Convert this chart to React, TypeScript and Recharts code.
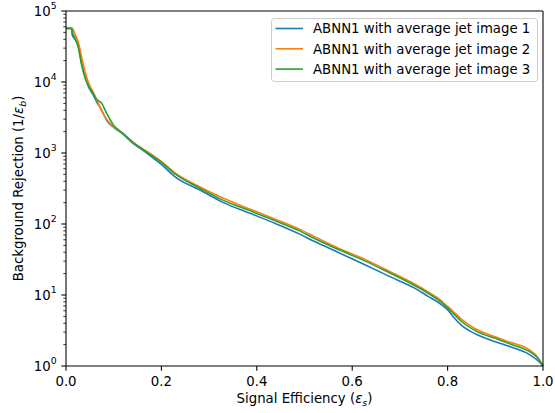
import React from 'react';
import { LineChart, Line, XAxis, YAxis, Legend, ReferenceLine } from 'recharts';

// signal efficiency grid (shared by the three curves)
const signalEff = [
  0, 0.012, 0.013, 0.02, 0.026, 0.033, 0.04, 0.047, 0.057, 0.064, 0.075, 0.085, 0.1, 0.117,
  0.14, 0.17, 0.2, 0.23, 0.28, 0.33, 0.39, 0.44, 0.49, 0.52, 0.57, 0.63, 0.68, 0.73, 0.76,
  0.78, 0.8, 0.81, 0.83, 0.86, 0.9, 0.93, 0.97, 0.99, 1.0,
];

// background rejection 1/eps_b
const rejection1 = [
  57000, 57000, 46000, 39000, 32000, 18000, 11800, 8600, 6600, 5300, 4000, 2900, 2300, 1900,
  1380, 990, 690, 455, 303, 200, 138, 101, 72, 57, 40, 26, 18, 12.6, 9.5,
  7.9, 6.2, 5.1, 3.7, 2.8, 2.2, 1.88, 1.47, 1.18, 1.0,
];
const rejection2 = [
  57000, 57000, 57000, 45000, 36000, 22000, 14000, 9800, 7200, 5700, 3900, 3000, 2350, 1950,
  1420, 1050, 760, 515, 335, 230, 158, 116, 84, 67, 46, 31, 21.3, 14.4, 11,
  9.0, 6.9, 6.0, 4.5, 3.3, 2.58, 2.17, 1.72, 1.3, 1.0,
];
const rejection3 = [
  57000, 57000, 52000, 40000, 30000, 17000, 11500, 8800, 6900, 5700, 5000, 3650, 2450, 1950,
  1420, 1020, 740, 500, 322, 215, 150, 110, 80, 63, 44, 29.5, 20.2, 13.7, 10.5,
  8.6, 6.6, 5.7, 4.2, 3.1, 2.45, 2.05, 1.62, 1.27, 1.0,
];

const seriesNames = [
  'ABNN1 with average jet image 1',
  'ABNN1 with average jet image 2',
  'ABNN1 with average jet image 3',
];
const seriesColors = ['#1f77b4', '#ff7f0e', '#2ca02c'];

const xTicks = [0, 0.2, 0.4, 0.6, 0.8, 1.0];
const yMajor = [1, 10, 100, 1000, 10000, 100000];
const yTicks: number[] = [];
yMajor.forEach((m, i) => {
  yTicks.push(m);
  if (i < yMajor.length - 1) for (let k = 2; k <= 9; k++) yTicks.push(m * k);
});

const rows = signalEff.map((x, i) => ({
  x,
  r1: rejection1[i],
  r2: rejection2[i],
  r3: rejection3[i],
}));

const FONT = '"DejaVu Sans", sans-serif';
const FS = 13.3;
const LW = 1.6;

const XTick = ({ x, y, payload }: any) => (
  <g>
    <line x1={x} x2={x} y1={y} y2={y + 4.7} stroke="#000" strokeWidth={1.07} />
    <text x={x} y={y + 20} textAnchor="middle" fontSize={FS} fontFamily={FONT} fill="#000">
      {Number(payload.value).toFixed(1)}
    </text>
  </g>
);

const YTick = ({ x, y, payload }: any) => {
  const lg = Math.log10(payload.value);
  const exp = Math.round(lg);
  const major = Math.abs(lg - exp) < 1e-9;
  return (
    <g>
      <line
        x1={x - (major ? 4.7 : 2.7)}
        x2={x}
        y1={y}
        y2={y}
        stroke="#000"
        strokeWidth={major ? 1.07 : 0.8}
      />
      {major && (
        <text x={x - 9.4} y={y + 5.3} textAnchor="end" fontSize={FS} fontFamily={FONT} fill="#000">
          10
          <tspan dy={-7.6} fontSize={9.3}>
            {exp}
          </tspan>
        </text>
      )}
    </g>
  );
};

const XLabel = ({ viewBox }: any) => {
  const cx = viewBox.x + viewBox.width / 2;
  return (
    <text x={cx} y={viewBox.y + 37} textAnchor="middle" fontSize={FS} fontFamily={FONT} fill="#000">
      Signal Efficiency (<tspan fontStyle="italic">ε</tspan>
      <tspan dy={3} fontSize={9.3} fontStyle="italic">
        s
      </tspan>
      <tspan dy={-3}>)</tspan>
    </text>
  );
};

const YLabel = ({ viewBox }: any) => {
  const cx = 22.5;
  const cy = viewBox.y + viewBox.height / 2;
  return (
    <text
      x={cx}
      y={cy}
      transform={`rotate(-90 ${cx} ${cy})`}
      textAnchor="middle"
      fontSize={FS}
      fontFamily={FONT}
      fill="#000"
    >
      Background Rejection (1/<tspan fontStyle="italic">ε</tspan>
      <tspan dy={3} fontSize={9.3} fontStyle="italic">
        b
      </tspan>
      <tspan dy={-3}>)</tspan>
    </text>
  );
};

const LegendBox = () => (
  <svg width={267} height={64} style={{ display: 'block' }}>
    <rect x={0.5} y={0.5} width={266} height={63} rx={3} fill="#fff" fillOpacity={0.8} stroke="#cccccc" />
    {seriesNames.map((name, i) => {
      const cy = 10.5 + i * 20.3;
      return (
        <g key={name}>
          <line x1={4.5} x2={32} y1={cy} y2={cy} stroke={seriesColors[i]} strokeWidth={LW} />
          <text x={42} y={cy + 4.8} fontSize={FS} fontFamily={FONT} fill="#000">
            {name}
          </text>
        </g>
      );
    })}
  </svg>
);

export default function App() {
  return (
    <div style={{ width: 555, height: 413, background: '#fff' }}>
      <style>{`body{margin:0}`}</style>
      <LineChart width={555} height={413} data={rows} margin={{ top: 11, right: 12, bottom: 0, left: 0 }}>
        <XAxis
          dataKey="x"
          type="number"
          domain={[0, 1]}
          ticks={xTicks}
          interval={0}
          tickSize={0}
          tickMargin={0}
          tick={<XTick />}
          axisLine={{ stroke: '#000', strokeWidth: 1.07 }}
          height={47}
          label={<XLabel />}
        />
        <YAxis
          type="number"
          scale="log"
          domain={[1, 100000]}
          allowDataOverflow
          ticks={yTicks}
          interval={0}
          tickSize={0}
          tickMargin={0}
          tick={<YTick />}
          axisLine={{ stroke: '#000', strokeWidth: 1.07 }}
          width={66}
          label={<YLabel />}
        />
        <Line type="monotone" dataKey="r1" stroke={seriesColors[0]} strokeWidth={LW} dot={false} isAnimationActive={false} />
        <Line type="monotone" dataKey="r2" stroke={seriesColors[1]} strokeWidth={LW} dot={false} isAnimationActive={false} />
        <Line type="monotone" dataKey="r3" stroke={seriesColors[2]} strokeWidth={LW} dot={false} isAnimationActive={false} />
        <ReferenceLine y={100000} stroke="#000" strokeWidth={1.07} />
        <ReferenceLine x={1} stroke="#000" strokeWidth={1.07} />
        <Legend
          layout="horizontal"
          verticalAlign="middle"
          align="center"
          content={<LegendBox />}
          wrapperStyle={{ left: 271, top: 18, width: 267, height: 64 }}
        />
      </LineChart>
    </div>
  );
}
